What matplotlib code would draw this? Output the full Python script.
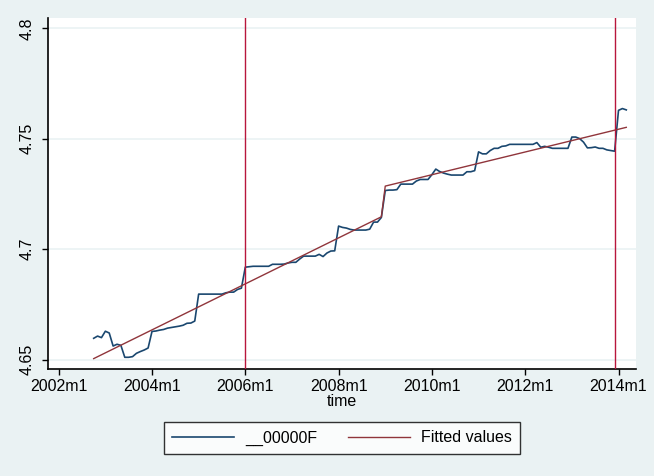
# Log series with piecewise linear fit, Stata s2color look

import numpy as np
import matplotlib.pyplot as plt

plt.rcParams['font.family'] = ['Liberation Sans', 'DejaVu Sans']

# months since 2002m1 (first obs 2002m10, last 2014m3)
months = list(range(9, 147))
series = [4.6597, 4.6607, 4.6600, 4.6629, 4.6621, 4.6562, 4.6570, 4.6565,
          4.6511, 4.6511, 4.6514, 4.6529, 4.6537, 4.6544, 4.6553, 4.6628,
          4.6630, 4.6634, 4.6637, 4.6643, 4.6646, 4.6649, 4.6652, 4.6656,
          4.6665, 4.6666, 4.6675, 4.6797, 4.6797, 4.6797, 4.6797, 4.6797,
          4.6797, 4.6797, 4.6803, 4.6806, 4.6806, 4.6818, 4.6824, 4.6919,
          4.6921, 4.6923, 4.6923, 4.6923, 4.6923, 4.6923, 4.6932, 4.6932,
          4.6932, 4.6933, 4.6938, 4.6941, 4.6941, 4.6956, 4.6969, 4.6969,
          4.6969, 4.6969, 4.6977, 4.6967, 4.6983, 4.6992, 4.6993, 4.7105,
          4.7099, 4.7096, 4.7090, 4.7087, 4.7087, 4.7087, 4.7087, 4.7091,
          4.7123, 4.7123, 4.7144, 4.7266, 4.7268, 4.7268, 4.7270, 4.7295,
          4.7295, 4.7295, 4.7295, 4.7309, 4.7316, 4.7316, 4.7316, 4.7338,
          4.7363, 4.7352, 4.7345, 4.7340, 4.7336, 4.7336, 4.7336, 4.7336,
          4.7351, 4.7351, 4.7356, 4.7441, 4.7432, 4.7432, 4.7447, 4.7457,
          4.7457, 4.7466, 4.7468, 4.7475, 4.7475, 4.7475, 4.7475, 4.7475,
          4.7475, 4.7475, 4.7483, 4.7462, 4.7466, 4.7462, 4.7457, 4.7457,
          4.7457, 4.7457, 4.7457, 4.7508, 4.7508, 4.7501, 4.7485, 4.7459,
          4.7460, 4.7463, 4.7457, 4.7457, 4.7450, 4.7447, 4.7444, 4.7629,
          4.7637, 4.7631]

# fitted values: two linear pieces, break at 2009m1
fit_months = [9, 83, 84, 146]
fit_values = [4.6505, 4.7147, 4.7286, 4.7552]

xline_months = [48, 143]          # 2006m1, 2013m12
xtick_months = [0, 24, 48, 72, 96, 120, 144]
xtick_labels = ['2002m1', '2004m1', '2006m1', '2008m1',
                '2010m1', '2012m1', '2014m1']
ytick_values = [4.65, 4.7, 4.75, 4.8]
ytick_labels = ['4.65', '4.7', '4.75', '4.8']
legend_labels = ['__00000F', 'Fitted values']

bg = '#EAF2F3'
fig = plt.figure(figsize=(6.54, 4.76), dpi=100, facecolor=bg)
ax = fig.add_axes([48/654, 1 - 369/476, 588/654, 351/476])
ax.set_facecolor('white')

for yv in ytick_values:
    ax.axhline(yv, color=bg, lw=1.2, zorder=0)

l1, = ax.plot(months, series, color='#1A476F', lw=1.2, zorder=3)
l2, = ax.plot(fit_months, fit_values, color='#90353B', lw=1.0, zorder=4)
for xm in xline_months:
    ax.axvline(xm, color='#B8163C', lw=1.0, zorder=5)

ax.set_xlim(-2.75, 148.5)
ax.set_ylim(4.6458, 4.8047)

ax.set_xticks(xtick_months)
ax.set_xticklabels(xtick_labels)
ax.set_yticks(ytick_values)
ax.set_yticklabels(ytick_labels, rotation=90, va='center')
ax.tick_params(axis='both', direction='out', length=4.5, width=1,
               labelsize=11.5, colors='black', pad=3)
ax.tick_params(axis='y', pad=5)

for s in ['top', 'right']:
    ax.spines[s].set_visible(False)
for s in ['left', 'bottom']:
    ax.spines[s].set_linewidth(1.2)

ax.set_xlabel('time', fontsize=11.5, labelpad=0)

leg = fig.legend([l1, l2], legend_labels, loc='center',
                 bbox_to_anchor=(342/654, 1 - 438/476),
                 ncol=2, frameon=True, fancybox=False, fontsize=11.5,
                 handlelength=3.9, handletextpad=0.7, columnspacing=1.9,
                 borderpad=0.5)
leg.get_frame().set_edgecolor('black')
leg.get_frame().set_linewidth(1.0)

fig.savefig('out.png', dpi=100, facecolor=bg)
